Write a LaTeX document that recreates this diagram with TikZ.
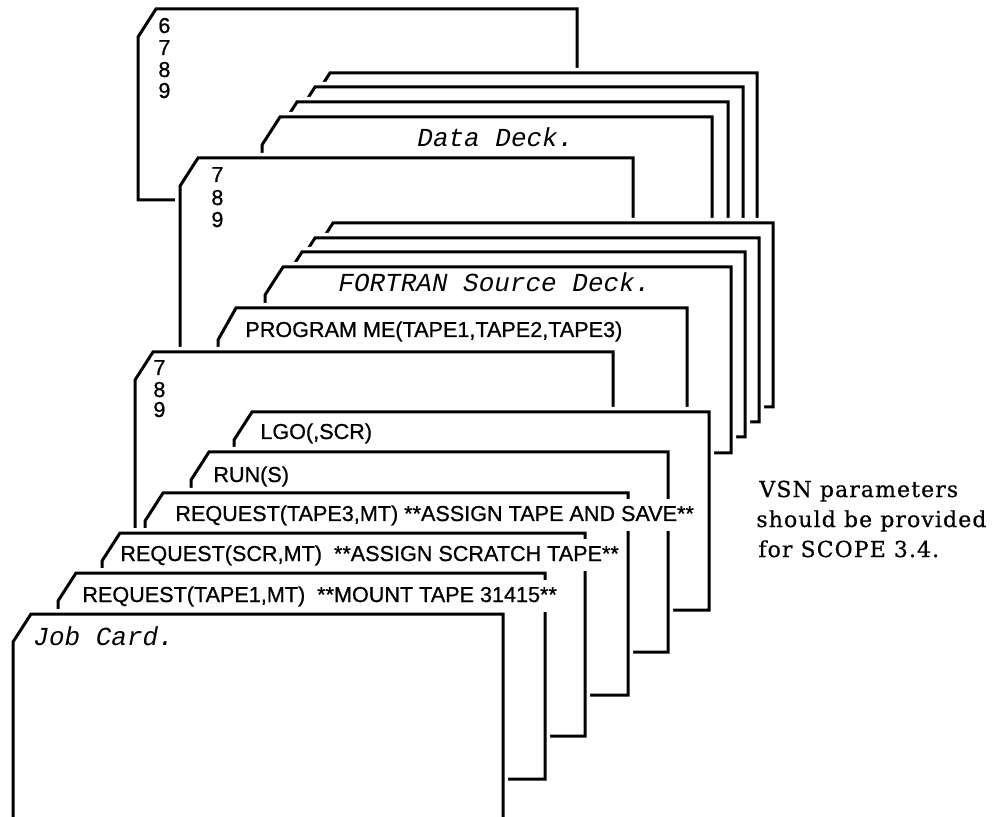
\documentclass[tikz,border=0pt]{standalone}
\usepackage{fontspec}
\setmainfont{Liberation Sans}
\newfontfamily\cardfont{Liberation Sans}[FakeBold=0.8]
\newfontfamily\typefont{Liberation Mono}
\newfontfamily\notefont{DejaVu Serif}[LetterSpace=5,FakeBold=0.6]

\begin{document}
\begin{tikzpicture}[x=0.5pt,y=-0.5pt,
  card/.style={draw=black, fill=white, line width=1.5pt, preaction={draw=white, line width=5pt}},
  punch/.style={anchor=base west, inner sep=1pt, font=\cardfont\fontsize{10.8}{12}\selectfont},
  tag/.style={anchor=base west, fill=white, inner xsep=1pt, inner ysep=3pt, font=\cardfont\fontsize{10.8}{12}\selectfont},
  deck/.style={anchor=base west, inner sep=1pt, font=\typefont\itshape\fontsize{13}{15}\selectfont},
  remark/.style={anchor=base west, inner sep=1pt, font=\notefont\fontsize{11}{13}\selectfont}]
\useasboundingbox (0,0) rectangle (995,817);
\clip (0,0) rectangle (995,817);
\filldraw[card] (138,37)--(156,9)--(577,9)--(577,200)--(138,200)--cycle;
\node[punch] (a6) at (156,33) {6};
\node[punch] (a7) at (156,55) {7};
\node[punch] (a8) at (156,77) {8};
\node[punch] (a9) at (156,98) {9};
\filldraw[card] (312,101)--(330,73)--(757,73)--(757,262)--(312,262)--cycle;
\filldraw[card] (297,115)--(315,87)--(743,87)--(743,277)--(297,277)--cycle;
\filldraw[card] (279,130)--(297,102)--(728,102)--(728,292)--(279,292)--cycle;
\filldraw[card] (262,145)--(280,117)--(712,117)--(712,307)--(262,307)--cycle;
\node[deck] (data) at (415,147) {Data Deck.};
\filldraw[card] (180,186)--(198,158)--(633,158)--(633,370)--(180,370)--cycle;
\node[punch] (b7) at (209,182) {7};
\node[punch] (b8) at (209,205) {8};
\node[punch] (b9) at (209,227) {9};
\filldraw[card] (315,251)--(333,223)--(773,223)--(773,407)--(315,407)--cycle;
\filldraw[card] (297,266)--(315,238)--(759,238)--(759,422)--(297,422)--cycle;
\filldraw[card] (284,280)--(302,252)--(745,252)--(745,437)--(284,437)--cycle;
\filldraw[card] (265,295)--(283,267)--(731,267)--(731,453)--(265,453)--cycle;
\node[deck] (fortran) at (336,292) {FORTRAN Source Deck.};
\filldraw[card] (218,340)--(236,308)--(687,308)--(687,500)--(218,500)--cycle;
\node[tag] (program) at (243,337) {PROGRAM ME(TAPE1,TAPE2,TAPE3)};
\filldraw[card] (135,380)--(153,352)--(613,352)--(613,547)--(135,547)--cycle;
\node[punch] (c7) at (151,375) {7};
\node[punch] (c8) at (151,397) {8};
\node[punch] (c9) at (151,417) {9};
\filldraw[card] (234,440)--(252,412)--(709,412)--(709,610)--(234,610)--cycle;
\node[tag] (lgo) at (258,439) {LGO(,SCR)};
\filldraw[card] (191,480)--(209,452)--(668,452)--(668,652)--(191,652)--cycle;
\node[tag] (run) at (211,482) {RUN(S)};
\filldraw[card] (145,521)--(163,493)--(628,493)--(628,695)--(145,695)--cycle;
\node[tag] (tape3) at (173,521) {REQUEST(TAPE3,MT) **ASSIGN TAPE AND SAVE**};
\filldraw[card] (102,561)--(120,533)--(585,533)--(585,736)--(102,736)--cycle;
\node[tag] (scratch) at (118,561) {REQUEST(SCR,MT)\ \ **ASSIGN SCRATCH TAPE**};
\filldraw[card] (58,601)--(76,573)--(545,573)--(545,779)--(58,779)--cycle;
\node[tag] (tape1) at (80,602) {REQUEST(TAPE1,MT)\ \ **MOUNT TAPE 31415**};
\filldraw[card] (13,642)--(31,614)--(503,614)--(503,830)--(13,830)--cycle;
\node[deck] (job) at (31,645) {Job Card.};
\node[remark] (vsn) at (757,497) {VSN parameters};
\node[remark] (should) at (754,527) {should be provided};
\node[remark] (scope) at (756,557) {for SCOPE 3.4.};
\end{tikzpicture}
\end{document}
